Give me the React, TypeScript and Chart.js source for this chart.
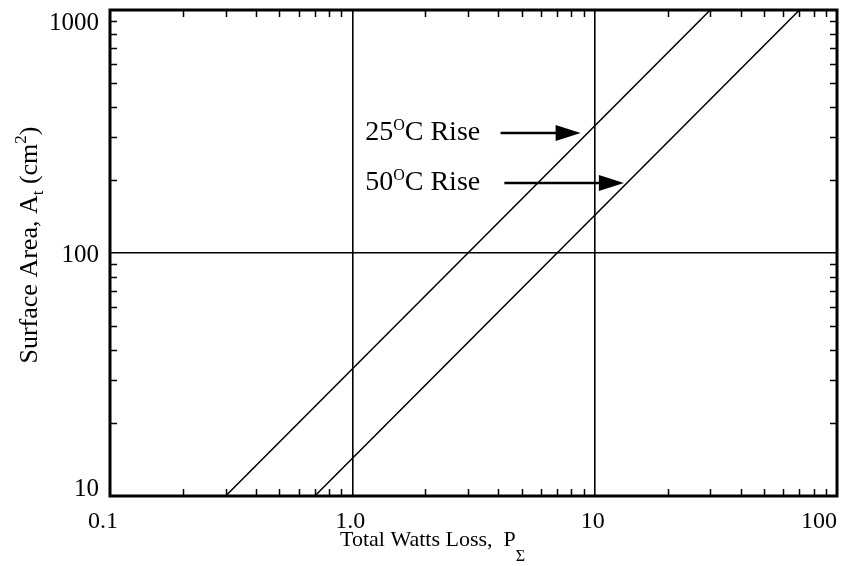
import React, { useEffect, useRef } from 'react';
import { Chart, registerables } from 'chart.js';

Chart.register(...registerables);

// ---- data ----
const RISE_25_WATTS = [0.3, 30];
const RISE_25_AREA = [10, 1000];
const RISE_50_WATTS = [0.7, 70];
const RISE_50_AREA = [10, 1000];

const X_TICK_VALUES = [0.1, 1, 10, 100];
const X_TICK_LABELS = ['0.1', '1.0', '10', '100'];
const Y_TICK_VALUES = [10, 100, 1000];
const Y_TICK_LABELS = ['10', '100', '1000'];
const X_GRID_VALUES = [1, 10];
const Y_GRID_VALUES = [100];
const MINOR_MULTIPLIERS = [2, 3, 4, 5, 6, 7, 8, 9];
const X_DECADES = [0.1, 1, 10];
const Y_DECADES = [10, 100];

const ANNOTATION_TEMPS = ['25', '50'];
const ANNOTATION_TEXT_X = [1.13, 1.13];
const ANNOTATION_TEXT_Y = [292, 182];
const ARROW_FROM_X = [4.09, 4.24];
const ARROW_TO_X = [8.75, 13.2];
const ARROW_Y = [312, 194];

const X_TITLE = 'Total Watts Loss,  P';
const X_TITLE_SUB = 'Σ';
const Y_TITLE_A = 'Surface Area, A';
const Y_TITLE_SUB = 't';
const Y_TITLE_B = ' (cm';
const Y_TITLE_SUP = '2';
const Y_TITLE_C = ')';

const FONT = '"Liberation Serif", "Times New Roman", Times, serif';

type Part = [string, number, number];

function partsWidth(ctx: CanvasRenderingContext2D, parts: Part[]) {
  let w = 0;
  for (const [t, size] of parts) {
    ctx.font = `${size}px ${FONT}`;
    w += ctx.measureText(t).width;
  }
  return w;
}

function drawParts(ctx: CanvasRenderingContext2D, parts: Part[], x: number, y: number) {
  let cx = x;
  for (const [t, size, dy] of parts) {
    ctx.font = `${size}px ${FONT}`;
    ctx.fillText(t, cx, y + dy);
    cx += ctx.measureText(t).width;
  }
  return cx;
}

const near = (a: number, b: number) => Math.abs(Math.log10(a) - Math.log10(b)) < 1e-6;

const decorPlugin = {
  id: 'decor',
  afterDraw(chart: any) {
    const ctx: CanvasRenderingContext2D = chart.ctx;
    const { left, right, top, bottom } = chart.chartArea;
    const xs = chart.scales.x;
    const ys = chart.scales.y;
    ctx.save();
    ctx.strokeStyle = '#000';
    ctx.fillStyle = '#000';

    // frame
    ctx.lineWidth = 3;
    ctx.strokeRect(left, top, right - left, bottom - top);

    // minor ticks (inward, all four sides)
    ctx.lineWidth = 1.5;
    const tl = 7;
    ctx.beginPath();
    for (const d of X_DECADES) {
      for (const m of MINOR_MULTIPLIERS) {
        const px = Math.round(xs.getPixelForValue(d * m)) + 0.5;
        ctx.moveTo(px, bottom);
        ctx.lineTo(px, bottom - tl);
        ctx.moveTo(px, top);
        ctx.lineTo(px, top + tl);
      }
    }
    for (const d of Y_DECADES) {
      for (const m of MINOR_MULTIPLIERS) {
        const py = Math.round(ys.getPixelForValue(d * m)) + 0.5;
        ctx.moveTo(left, py);
        ctx.lineTo(left + tl, py);
        ctx.moveTo(right, py);
        ctx.lineTo(right - tl, py);
      }
    }
    ctx.stroke();

    // y tick labels
    ctx.font = `25px ${FONT}`;
    ctx.textAlign = 'right';
    ctx.textBaseline = 'middle';
    Y_TICK_VALUES.forEach((v, i) => {
      let py = ys.getPixelForValue(v);
      py = Math.min(Math.max(py + 2, top + 13), bottom - 7);
      ctx.fillText(Y_TICK_LABELS[i], left - 11, py);
    });

    // x tick labels
    ctx.font = `24px ${FONT}`;
    ctx.textBaseline = 'alphabetic';
    X_TICK_VALUES.forEach((v, i) => {
      const px = xs.getPixelForValue(v);
      if (i === X_TICK_VALUES.length - 1) {
        ctx.textAlign = 'right';
        ctx.fillText(X_TICK_LABELS[i], px, bottom + 32);
      } else if (i === 0) {
        ctx.textAlign = 'center';
        ctx.fillText(X_TICK_LABELS[i], px - 7, bottom + 32);
      } else {
        ctx.textAlign = 'center';
        ctx.fillText(X_TICK_LABELS[i], px - 2, bottom + 32);
      }
    });

    // x title
    ctx.textAlign = 'left';
    drawParts(ctx, [[X_TITLE, 22, 0], [X_TITLE_SUB, 16, 15]], 340, bottom + 50);

    // y title
    const yParts: Part[] = [
      [Y_TITLE_A, 26, 0],
      [Y_TITLE_SUB, 17, 6],
      [Y_TITLE_B, 26, 0],
      [Y_TITLE_SUP, 17, -11],
      [Y_TITLE_C, 26, 0],
    ];
    const w = partsWidth(ctx, yParts);
    ctx.save();
    ctx.translate(37, 245);
    ctx.rotate(-Math.PI / 2);
    drawParts(ctx, yParts, -w / 2, 0);
    ctx.restore();

    // annotations
    ANNOTATION_TEMPS.forEach((t, i) => {
      const tx = xs.getPixelForValue(ANNOTATION_TEXT_X[i]);
      const ty = ys.getPixelForValue(ANNOTATION_TEXT_Y[i]);
      drawParts(ctx, [[t, 28, 0], ['O', 16, -10], ['C Rise', 28, 0]], tx, ty);
      const ax0 = xs.getPixelForValue(ARROW_FROM_X[i]);
      const ax1 = xs.getPixelForValue(ARROW_TO_X[i]);
      const ay = ys.getPixelForValue(ARROW_Y[i]);
      ctx.lineWidth = 2.5;
      ctx.beginPath();
      ctx.moveTo(ax0, ay);
      ctx.lineTo(ax1 - 20, ay);
      ctx.stroke();
      ctx.beginPath();
      ctx.moveTo(ax1, ay);
      ctx.lineTo(ax1 - 25, ay - 8);
      ctx.lineTo(ax1 - 25, ay + 8);
      ctx.closePath();
      ctx.fill();
    });

    ctx.restore();
  },
};

export default function App() {
  const canvasRef = useRef<HTMLCanvasElement | null>(null);

  useEffect(() => {
    const canvas = canvasRef.current;
    if (!canvas) return;
    const chart = new Chart(canvas, {
      type: 'line',
      data: {
        datasets: [
          {
            label: '25°C Rise',
            data: RISE_25_WATTS.map((x, i) => ({ x, y: RISE_25_AREA[i] })),
            borderColor: '#000',
            borderWidth: 1.5,
            pointRadius: 0,
            fill: false,
          },
          {
            label: '50°C Rise',
            data: RISE_50_WATTS.map((x, i) => ({ x, y: RISE_50_AREA[i] })),
            borderColor: '#000',
            borderWidth: 1.5,
            pointRadius: 0,
            fill: false,
          },
        ],
      },
      options: {
        animation: false,
        responsive: false,
        maintainAspectRatio: false,
        layout: { padding: { top: 10, right: 6, left: 0, bottom: 0 } },
        plugins: {
          legend: { display: false },
          tooltip: { enabled: false },
          title: { display: false },
        },
        scales: {
          x: {
            type: 'logarithmic',
            min: 0.1,
            max: 100,
            ticks: { display: false },
            border: { display: false },
            grid: {
              drawTicks: false,
              lineWidth: 1.6,
              color: (c: any) =>
                c.tick && X_GRID_VALUES.some((g) => near(c.tick.value, g)) ? '#000' : 'rgba(0,0,0,0)',
            },
            afterFit: (s: any) => {
              s.height = 70;
            },
          },
          y: {
            type: 'logarithmic',
            min: 10,
            max: 1000,
            ticks: { display: false },
            border: { display: false },
            grid: {
              drawTicks: false,
              lineWidth: 1.6,
              color: (c: any) =>
                c.tick && Y_GRID_VALUES.some((g) => near(c.tick.value, g)) ? '#000' : 'rgba(0,0,0,0)',
            },
            afterFit: (s: any) => {
              s.width = 110;
            },
          },
        },
      },
      plugins: [decorPlugin],
    });
    return () => chart.destroy();
  }, []);

  return (
    <div style={{ position: 'absolute', left: 0, top: 0, width: 843, height: 566, background: '#fff' }}>
      <canvas ref={canvasRef} width={843} height={566} />
    </div>
  );
}
